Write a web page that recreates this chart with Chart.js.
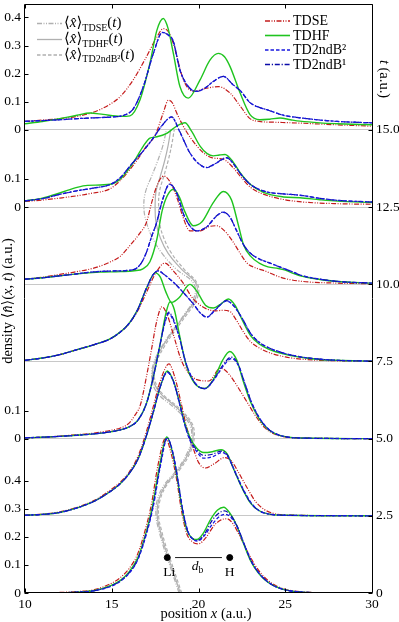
<!DOCTYPE html>
<html><head><meta charset="utf-8">
<script src="https://cdn.jsdelivr.net/npm/chart.js@4/dist/chart.umd.min.js"></script>
<style>html,body{margin:0;padding:0;background:#fff;overflow:hidden}canvas{display:block}</style>
</head><body>
<canvas id="c" width="399" height="622" style="width:399px;height:622px"></canvas>
<script>
// ---------------- data ----------------
const PANEL_TIMES = [0, 2.5, 5, 7.5, 10, 12.5, 15];   // t (a.u.) of each stacked snapshot
const STEP = 0.2745;                                  // density offset per 2.5 a.u. of time
const X_MIN = 10, X_MAX = 30, Y_MAX = 2.0911;
const T_MAX = Y_MAX * 2.5 / STEP;

// left-axis labelled ticks: [panel time, density labels]
const LEFT_TICK_GROUPS = [[0,[0,0.1,0.2,0.3,0.4]],[5,[0,0.1]],[12.5,[0,0.1]],[15,[0,0.1,0.2,0.3,0.4]]];

// density curves, [x, n(x,t)] per snapshot
const tdse_t0 = [[10,0],[12,0.002],[13,0.005],[14,0.012],[15,0.035],[15.5,0.055],[16,0.087],[16.5,0.14],[17,0.24],[17.3,0.32],[17.65,0.45],[18.1,0.55],[18.45,0.49],[18.75,0.4],[19,0.3],[19.3,0.215],[19.65,0.182],[20,0.175],[20.4,0.195],[20.9,0.24],[21.3,0.26],[21.65,0.264],[22,0.245],[22.4,0.2],[22.8,0.15],[23.2,0.105],[23.6,0.07],[24,0.045],[24.5,0.025],[25,0.013],[26,0.004],[27,0.001],[30,0]];
const tdhf_t0 = [[10,0],[12,0.001],[13,0.003],[14,0.009],[15,0.028],[15.5,0.045],[16,0.075],[16.5,0.125],[17,0.22],[17.35,0.31],[17.75,0.45],[18.17,0.555],[18.5,0.5],[18.8,0.4],[19.05,0.3],[19.35,0.22],[19.65,0.195],[19.9,0.19],[20.3,0.215],[20.7,0.262],[21.1,0.295],[21.45,0.305],[21.8,0.285],[22.2,0.24],[22.6,0.175],[23,0.115],[23.4,0.075],[23.8,0.048],[24.3,0.027],[25,0.011],[26,0.003],[27,0.001],[30,0]];
const b2_t0 = [[10,0],[12,0.001],[13,0.003],[14,0.008],[15,0.025],[15.5,0.042],[16,0.07],[16.5,0.118],[17,0.21],[17.4,0.31],[17.8,0.45],[18.2,0.55],[18.52,0.5],[18.82,0.4],[19.08,0.3],[19.4,0.218],[19.7,0.19],[19.95,0.185],[20.35,0.205],[20.8,0.245],[21.2,0.272],[21.55,0.28],[21.85,0.27],[22.25,0.232],[22.65,0.17],[23.05,0.112],[23.45,0.073],[23.85,0.047],[24.3,0.027],[25,0.011],[26,0.003],[27,0.001],[30,0]];
const b1_t0 = [[10,0],[12,0.001],[13,0.003],[14,0.008],[15,0.026],[15.5,0.043],[16,0.072],[16.5,0.12],[17,0.215],[17.38,0.31],[17.78,0.45],[18.19,0.552],[18.51,0.5],[18.81,0.4],[19.07,0.3],[19.38,0.219],[19.68,0.192],[19.93,0.187],[20.35,0.21],[20.75,0.255],[21.15,0.283],[21.5,0.292],[21.85,0.277],[22.25,0.235],[22.65,0.172],[23.05,0.113],[23.45,0.074],[23.85,0.047],[24.3,0.027],[25,0.011],[26,0.003],[27,0.001],[30,0]];

const tdse_t2 = [[10,0.002],[11,0.006],[12,0.014],[13,0.03],[14,0.055],[15,0.095],[15.5,0.12],[16,0.155],[16.5,0.21],[17,0.3],[17.4,0.39],[17.8,0.48],[18.3,0.54],[18.65,0.49],[19,0.4],[19.3,0.32],[19.7,0.24],[20,0.19],[20.4,0.17],[20.9,0.185],[21.5,0.207],[21.9,0.195],[22.3,0.155],[22.8,0.1],[23.3,0.05],[23.8,0.022],[24.3,0.009],[25,0.003],[30,0]];
const tdhf_t2 = [[10,0.002],[11,0.005],[12,0.012],[13,0.028],[14,0.052],[15,0.09],[15.5,0.115],[16,0.15],[16.5,0.2],[17,0.285],[17.4,0.37],[17.8,0.46],[18.2,0.515],[18.55,0.48],[18.9,0.405],[19.2,0.33],[19.5,0.28],[19.9,0.24],[20.3,0.225],[20.8,0.228],[21.3,0.235],[21.65,0.22],[22,0.17],[22.5,0.1],[23,0.045],[23.5,0.018],[24,0.007],[25,0.002],[30,0]];
const b2_t2 = [[10,0.002],[11,0.005],[12,0.012],[13,0.028],[14,0.052],[15,0.09],[15.5,0.115],[16,0.15],[16.5,0.2],[17,0.285],[17.4,0.37],[17.8,0.46],[18.2,0.51],[18.55,0.478],[18.9,0.4],[19.2,0.325],[19.5,0.27],[19.9,0.228],[20.3,0.205],[20.8,0.21],[21.35,0.225],[21.7,0.21],[22.05,0.165],[22.55,0.098],[23.05,0.045],[23.5,0.018],[24,0.007],[25,0.002],[30,0]];
const b1_t2 = [[10,0.002],[11,0.005],[12,0.012],[13,0.028],[14,0.052],[15,0.09],[15.5,0.115],[16,0.15],[16.5,0.2],[17,0.285],[17.4,0.37],[17.8,0.46],[18.2,0.512],[18.55,0.479],[18.9,0.402],[19.2,0.327],[19.5,0.275],[19.9,0.234],[20.3,0.215],[20.8,0.219],[21.32,0.23],[21.68,0.215],[22.02,0.167],[22.52,0.099],[23.02,0.045],[23.5,0.018],[24,0.007],[25,0.002],[30,0]];

const tdse_t5 = [[10,0.003],[11,0.005],[12,0.009],[13,0.014],[14,0.02],[15,0.03],[15.5,0.038],[16,0.055],[16.3,0.08],[16.65,0.12],[17,0.22],[17.3,0.32],[17.6,0.42],[17.9,0.469],[18.2,0.44],[18.55,0.37],[19,0.28],[19.35,0.24],[19.9,0.21],[20.6,0.205],[21.25,0.25],[21.5,0.245],[21.8,0.226],[22.3,0.18],[22.8,0.13],[23.3,0.08],[23.8,0.04],[24.3,0.018],[25,0.006],[26,0.002],[30,0]];
const tdhf_t5 = [[10,0.003],[11,0.005],[12,0.008],[13,0.012],[14,0.017],[15,0.025],[15.5,0.031],[16,0.042],[16.5,0.065],[17,0.125],[17.4,0.22],[17.8,0.34],[18.1,0.44],[18.36,0.487],[18.6,0.46],[18.9,0.37],[19.3,0.26],[19.8,0.195],[20.35,0.178],[20.9,0.215],[21.4,0.28],[21.8,0.31],[22.2,0.28],[22.6,0.2],[23,0.13],[23.5,0.07],[24,0.033],[24.5,0.015],[25,0.007],[26,0.002],[30,0]];
const b2_t5 = [[10,0.003],[11,0.005],[12,0.008],[13,0.012],[14,0.017],[15,0.025],[15.5,0.031],[16,0.042],[16.5,0.065],[17,0.125],[17.4,0.22],[17.8,0.34],[18.1,0.42],[18.28,0.445],[18.55,0.42],[18.85,0.37],[19.3,0.265],[19.8,0.198],[20.37,0.178],[20.9,0.21],[21.45,0.26],[21.9,0.285],[22.3,0.26],[22.65,0.2],[23.05,0.13],[23.5,0.075],[24,0.036],[24.5,0.016],[25,0.007],[26,0.002],[30,0]];
const b1_t5 = [[10,0.003],[11,0.005],[12,0.008],[13,0.012],[14,0.017],[15,0.025],[15.5,0.031],[16,0.042],[16.5,0.065],[17,0.125],[17.4,0.22],[17.8,0.34],[18.1,0.425],[18.28,0.45],[18.55,0.425],[18.85,0.37],[19.3,0.263],[19.8,0.197],[20.37,0.178],[20.9,0.212],[21.45,0.265],[21.88,0.29],[22.28,0.265],[22.65,0.2],[23.05,0.13],[23.5,0.074],[24,0.035],[24.5,0.016],[25,0.007],[26,0.002],[30,0]];

const tdse_t7 = [[10,0.004],[11,0.012],[12,0.024],[13,0.042],[14,0.06],[14.9,0.08],[15.5,0.105],[16,0.135],[16.5,0.18],[17,0.245],[17.5,0.31],[18.07,0.35],[18.5,0.325],[19.1,0.28],[19.6,0.23],[20.1,0.2],[20.5,0.186],[21,0.18],[21.4,0.182],[21.8,0.178],[22.2,0.145],[22.6,0.104],[23,0.07],[23.5,0.048],[24,0.033],[25,0.016],[26,0.008],[27,0.004],[30,0.001]];
const tdhf_t7 = [[10,0.004],[11,0.012],[12,0.024],[13,0.042],[14,0.06],[14.9,0.08],[15.5,0.105],[16,0.135],[16.5,0.185],[17,0.26],[17.5,0.315],[17.8,0.3],[18.1,0.25],[18.45,0.21],[18.9,0.228],[19.5,0.274],[19.9,0.25],[20.4,0.2],[20.85,0.19],[21.3,0.205],[21.72,0.222],[22.1,0.2],[22.5,0.15],[23,0.092],[23.5,0.062],[24,0.045],[25,0.025],[26,0.014],[27,0.007],[28,0.004],[30,0.001]];
const b2_t7 = [[10,0.004],[11,0.012],[12,0.024],[13,0.042],[14,0.06],[14.9,0.08],[15.5,0.105],[16,0.135],[16.5,0.185],[17,0.26],[17.4,0.31],[17.68,0.322],[18,0.31],[18.4,0.29],[18.75,0.27],[19.2,0.24],[19.7,0.205],[20.1,0.172],[20.47,0.157],[21,0.185],[21.62,0.215],[22,0.2],[22.5,0.155],[23,0.1],[23.5,0.068],[24,0.05],[25,0.028],[26,0.015],[27,0.008],[28,0.004],[30,0.001]];
const b1_t7 = [[10,0.004],[11,0.012],[12,0.024],[13,0.042],[14,0.06],[14.9,0.08],[15.5,0.105],[16,0.135],[16.5,0.185],[17,0.26],[17.4,0.31],[17.68,0.322],[18,0.31],[18.4,0.29],[18.75,0.27],[19.2,0.24],[19.7,0.205],[20.1,0.173],[20.47,0.158],[21,0.186],[21.62,0.216],[22,0.2],[22.5,0.155],[23,0.1],[23.5,0.068],[24,0.05],[25,0.028],[26,0.015],[27,0.008],[28,0.004],[30,0.001]];

const tdse_t10 = [[10,0.018],[11,0.025],[12,0.035],[13,0.045],[14,0.058],[14.9,0.079],[15.5,0.1],[16.05,0.138],[16.6,0.18],[17,0.22],[17.3,0.29],[17.6,0.35],[18,0.385],[18.4,0.36],[18.8,0.3],[19.1,0.24],[19.5,0.19],[20.1,0.19],[20.6,0.205],[21.05,0.208],[21.5,0.19],[22,0.15],[22.4,0.11],[22.8,0.075],[23.3,0.058],[23.8,0.048],[24.5,0.03],[25,0.02],[26,0.01],[28,0.004],[30,0.002]];
const tdhf_t10 = [[10,0.018],[11,0.023],[12,0.03],[13,0.037],[14.3,0.043],[15.5,0.045],[16.3,0.048],[16.8,0.055],[17.2,0.08],[17.6,0.16],[17.9,0.26],[18.2,0.315],[18.55,0.338],[18.9,0.31],[19.2,0.26],[19.7,0.208],[20.2,0.222],[20.85,0.29],[21.43,0.33],[21.9,0.3],[22.3,0.21],[22.6,0.14],[23,0.1],[23.5,0.075],[24,0.062],[24.6,0.056],[25,0.05],[25.5,0.038],[26,0.028],[27,0.017],[28,0.01],[30,0.004]];
const b2_t10 = [[10,0.018],[11,0.023],[12,0.03],[13,0.037],[13.75,0.043],[15,0.047],[16.24,0.052],[16.7,0.075],[17,0.114],[17.3,0.17],[17.59,0.22],[17.88,0.29],[18.33,0.355],[18.7,0.33],[19.2,0.24],[19.9,0.19],[20.5,0.205],[21,0.24],[21.43,0.256],[21.8,0.24],[22.2,0.19],[22.6,0.14],[23,0.11],[23.5,0.09],[24,0.078],[24.5,0.066],[25.46,0.043],[26,0.03],[27,0.018],[28,0.01],[30,0.004]];
const b1_t10 = [[10,0.018],[11,0.023],[12,0.03],[13,0.037],[13.75,0.043],[15,0.047],[16.24,0.052],[16.7,0.075],[17,0.114],[17.3,0.17],[17.59,0.22],[17.88,0.29],[18.33,0.356],[18.7,0.331],[19.2,0.24],[19.9,0.19],[20.5,0.206],[21,0.241],[21.43,0.257],[21.8,0.24],[22.2,0.19],[22.6,0.14],[23,0.11],[23.5,0.09],[24,0.078],[24.5,0.066],[25.46,0.043],[26,0.03],[27,0.018],[28,0.01],[30,0.004]];

const tdse_t12 = [[10,0.02],[11,0.025],[12,0.032],[13,0.04],[13.75,0.048],[14.9,0.065],[15.5,0.095],[16.05,0.134],[16.5,0.17],[17,0.217],[17.5,0.255],[17.97,0.335],[18.26,0.38],[18.5,0.37],[18.74,0.335],[19.1,0.29],[19.5,0.25],[20.28,0.193],[20.8,0.175],[21.43,0.17],[22,0.14],[22.4,0.11],[23,0.07],[23.74,0.046],[24.9,0.027],[26,0.018],[28,0.012],[30,0.01]];
const tdhf_t12 = [[10,0.022],[11,0.032],[12,0.05],[13,0.07],[13.6,0.077],[14.9,0.081],[15.5,0.1],[16.24,0.158],[16.82,0.217],[17.2,0.245],[17.6,0.25],[18.17,0.262],[18.74,0.288],[19.22,0.3],[19.6,0.27],[20.09,0.217],[20.5,0.19],[20.85,0.182],[21.2,0.185],[21.53,0.187],[22,0.16],[22.4,0.122],[23,0.08],[23.74,0.052],[24.9,0.036],[25.85,0.033],[27,0.026],[28,0.021],[30,0.016]];
const b2_t12 = [[10,0.022],[11,0.03],[12,0.045],[13,0.058],[14,0.068],[14.9,0.08],[15.5,0.105],[16.05,0.146],[16.82,0.2],[17.4,0.246],[17.9,0.29],[18.45,0.32],[18.9,0.27],[19.5,0.193],[20,0.155],[20.47,0.14],[21,0.155],[21.62,0.175],[22,0.155],[22.4,0.12],[23,0.08],[23.93,0.054],[24.9,0.047],[25.85,0.042],[27,0.031],[28,0.024],[30,0.018]];
const b1_t12 = [[10,0.022],[11,0.03],[12,0.045],[13,0.058],[14,0.068],[14.9,0.08],[15.5,0.105],[16.05,0.146],[16.82,0.2],[17.4,0.246],[17.9,0.29],[18.45,0.321],[18.9,0.271],[19.5,0.193],[20,0.155],[20.47,0.141],[21,0.156],[21.62,0.176],[22,0.155],[22.4,0.12],[23,0.08],[23.93,0.054],[24.9,0.047],[25.85,0.042],[27,0.031],[28,0.024],[30,0.018]];

const tdse_t15 = [[10,0.03],[11,0.035],[12,0.04],[13,0.048],[13.7,0.058],[14.32,0.072],[15,0.095],[15.5,0.119],[16.24,0.178],[17,0.26],[17.6,0.33],[17.97,0.36],[18.25,0.35],[18.55,0.307],[19.13,0.178],[19.7,0.137],[20.47,0.148],[21.14,0.154],[21.82,0.131],[22.4,0.085],[22.97,0.04],[23.5,0.03],[24.5,0.027],[25.85,0.024],[28,0.018],[30,0.013]];
const tdhf_t15 = [[10,0.022],[11,0.03],[12,0.04],[13,0.052],[13.75,0.06],[14.5,0.055],[15.5,0.048],[16.05,0.05],[16.63,0.107],[17.2,0.237],[17.6,0.354],[17.97,0.396],[18.25,0.36],[18.55,0.272],[18.93,0.154],[19.41,0.113],[20.09,0.178],[20.66,0.248],[21.14,0.272],[21.5,0.26],[21.82,0.225],[22.4,0.131],[22.97,0.054],[23.54,0.036],[24.1,0.038],[24.7,0.042],[25.3,0.036],[25.85,0.031],[27,0.025],[28,0.022],[30,0.018]];
const b2_t15 = [[10,0.03],[11,0.033],[12,0.036],[13,0.04],[14,0.043],[15,0.046],[15.7,0.052],[16.24,0.075],[16.82,0.154],[17.4,0.272],[17.92,0.347],[18.25,0.338],[18.55,0.315],[18.93,0.213],[19.5,0.148],[19.9,0.137],[20.4,0.15],[20.85,0.172],[21.43,0.19],[22,0.16],[22.4,0.14],[22.97,0.097],[23.5,0.08],[23.93,0.072],[24.9,0.052],[25.85,0.043],[27,0.035],[28,0.03],[30,0.025]];
const b1_t15 = [[10,0.03],[11,0.033],[12,0.036],[13,0.04],[14,0.043],[15,0.046],[15.7,0.052],[16.24,0.075],[16.82,0.154],[17.4,0.272],[17.92,0.346],[18.25,0.337],[18.55,0.314],[18.93,0.213],[19.5,0.148],[19.9,0.137],[20.4,0.15],[20.85,0.172],[21.43,0.19],[22,0.16],[22.4,0.14],[22.97,0.097],[23.5,0.08],[23.93,0.072],[24.9,0.052],[25.85,0.043],[27,0.035],[28,0.03],[30,0.025]];

// centre of mass trajectories <x>(t)
const T_TRAJ   = [0,0.5,1,1.5,2,2.5,3,3.5,4,4.5,5,5.5,6,6.5,7,7.5,8,8.5,9,9.5,10,10.5,11,11.5,12,12.5,13,13.5,14,14.5,15];
const X_TDSE_T = [18.88,18.58,18.28,17.98,17.73,17.55,17.62,18.02,18.77,19.32,19.6,19.45,18.6,17.6,17.3,17.45,17.9,18.5,19.15,19.7,19.75,18.7,17.9,17.35,17.0,16.85,16.95,17.3,17.65,17.95,18.15];
const X_TDHF_T = [18.95,18.65,18.35,18.05,17.8,17.62,17.7,18.1,18.85,19.4,19.68,19.55,18.75,17.75,17.35,17.5,17.95,18.55,19.2,19.8,19.88,19.0,18.25,17.8,17.55,17.5,17.55,17.8,18.05,18.25,18.4];
const X_B2_T   = [19.03,18.73,18.43,18.13,17.88,17.7,17.78,18.18,18.93,19.48,19.75,19.62,18.85,17.85,17.45,17.6,18.05,18.65,19.3,19.9,19.95,19.15,18.45,18.0,17.75,17.7,17.75,18.0,18.25,18.45,18.6];

// atoms
const ATOM_X = [18.2, 21.8];
const ATOM_D = 0.126;
const ATOM_LABELS = ['Li', 'H'];
const BOND_X = [18.65, 21.35];

// ---------------- styling ----------------
const FONT = '"Liberation Serif","DejaVu Serif",serif';
const STY = {
  tdse: {c:'#c41b1b', w:1.2, dash:[5,1.5,1,1.5,1,1.5], order:4},
  tdhf: {c:'#1fc41f', w:1.4, dash:[], order:3},
  b1:   {c:'#0b0ba8', w:1.2, dash:[5,1.8,1.2,1.8], order:2},
  b2:   {c:'#1717e0', w:1.3, dash:[3.5,2], order:1}
};
const GRAY = '#b0b0b0';

const panels = [
  {t:0,    tdse:tdse_t0,  tdhf:tdhf_t0,  b2:b2_t0,  b1:b1_t0},
  {t:2.5,  tdse:tdse_t2,  tdhf:tdhf_t2,  b2:b2_t2,  b1:b1_t2},
  {t:5,    tdse:tdse_t5,  tdhf:tdhf_t5,  b2:b2_t5,  b1:b1_t5},
  {t:7.5,  tdse:tdse_t7,  tdhf:tdhf_t7,  b2:b2_t7,  b1:b1_t7},
  {t:10,   tdse:tdse_t10, tdhf:tdhf_t10, b2:b2_t10, b1:b1_t10},
  {t:12.5, tdse:tdse_t12, tdhf:tdhf_t12, b2:b2_t12, b1:b1_t12},
  {t:15,   tdse:tdse_t15, tdhf:tdhf_t15, b2:b2_t15, b1:b1_t15}
];

const datasets = [];
// trajectories (behind)
[[X_TDSE_T, STY.tdse.dash],[X_TDHF_T, []],[X_B2_T, STY.b2.dash]].forEach(([xs, dash]) => {
  datasets.push({data: xs.map((x,i)=>({x, y:T_TRAJ[i]})), yAxisID:'yt', borderColor:GRAY,
    borderWidth:1.2, borderDash:dash, pointRadius:0, showLine:true, tension:0.4, order:20, fill:false});
});
panels.forEach(p => {
  const off = p.t / 2.5 * STEP;
  ['tdse','tdhf','b1','b2'].forEach(k => {
    const s = STY[k];
    datasets.push({data: p[k].map(([x,d]) => ({x, y: off + d})), yAxisID:'y', borderColor:s.c,
      borderWidth:s.w, borderDash:s.dash, pointRadius:0, showLine:true,
      cubicInterpolationMode:'monotone', order:s.order, fill:false});
  });
});
// bond line and atoms
datasets.push({data: BOND_X.map(x=>({x, y:ATOM_D})), yAxisID:'y', borderColor:'#000', borderWidth:0.9,
  pointRadius:0, showLine:true, order:0});
datasets.push({data: ATOM_X.map(x=>({x, y:ATOM_D})), yAxisID:'y', backgroundColor:'#000', borderColor:'#000',
  pointRadius:3, showLine:false, order:0});

const LEFT_TICKS = [];
LEFT_TICK_GROUPS.forEach(([t, labs]) => labs.forEach(d => LEFT_TICKS.push({value: t/2.5*STEP + d, label: d===0 ? '0' : d.toFixed(1)})));

// ---------------- text helper ----------------
function drawRuns(ctx, runs, x, y, align, size, subSize) {
  const f = s => ((s.includes('i')) ? 'italic ' : '') + (s.includes('s') ? subSize : size) + 'px ' + FONT;
  let total = 0;
  runs.forEach(([t,s]) => { ctx.font = f(s); total += ctx.measureText(t).width; });
  let cx = align === 'center' ? x - total/2 : x;
  ctx.textAlign = 'left'; ctx.textBaseline = 'middle';
  runs.forEach(([t,s]) => {
    ctx.font = f(s);
    ctx.fillText(t, cx, y + (s.includes('s') ? size*0.3 : 0));
    cx += ctx.measureText(t).width;
  });
}

const decor = {
  id: 'decor',
  afterDatasetsDraw(chart) {
    const {ctx, chartArea:a, scales} = chart;
    const sx = scales.x, sy = scales.y, st = scales.yt;
    ctx.save();
    ctx.strokeStyle = '#000'; ctx.lineWidth = 1; ctx.setLineDash([]);
    const L = Math.round(a.left) - 0.5, R = Math.round(a.right) + 0.5, T = Math.round(a.top) - 0.5, B = Math.round(a.bottom) - 0.5;
    ctx.beginPath();
    ctx.moveTo(L, T); ctx.lineTo(R, T); ctx.lineTo(R, B); ctx.lineTo(L, B); ctx.closePath();
    for (let v = X_MIN; v <= X_MAX; v += 5) {
      const px = Math.round(sx.getPixelForValue(v)) + 0.5;
      ctx.moveTo(px, B); ctx.lineTo(px, B - 4);
      ctx.moveTo(px, T); ctx.lineTo(px, T + 4);
    }
    LEFT_TICKS.forEach(tk => { const py = Math.round(sy.getPixelForValue(tk.value)) + 0.5; ctx.moveTo(L, py); ctx.lineTo(L + 4, py); });
    PANEL_TIMES.forEach(t => { const py = Math.round(st.getPixelForValue(t)) + 0.5; ctx.moveTo(R, py); ctx.lineTo(R - 4, py); });
    ctx.stroke();

    ctx.fillStyle = '#000';
    ATOM_X.forEach((x, i) => {
      ctx.font = '13.5px ' + FONT; ctx.textAlign = 'center'; ctx.textBaseline = 'middle';
      ctx.fillText(ATOM_LABELS[i], sx.getPixelForValue(x) + (i===0?2:0), sy.getPixelForValue(ATOM_D) + 14.5);
    });
    drawRuns(ctx, [['d','i'],['b','s']], (sx.getPixelForValue(BOND_X[0]) + sx.getPixelForValue(BOND_X[1]))/2 - 1,
      sy.getPixelForValue(ATOM_D) + 9, 'center', 13.5, 9.5);

    drawRuns(ctx, [['position ','n'],['x','i'],[' (a.u.)','n']], 206, 614, 'center', 14.5, 10);
    ctx.save(); ctx.translate(8.5, 301); ctx.rotate(-Math.PI/2);
    drawRuns(ctx, [['density \u27E8','n'],['n\u0302','i'],['\u27E9(','n'],['x','i'],[', ','n'],['t','i'],[') (a.u.)','n']], 0, 0, 'center', 14.5, 10);
    ctx.restore();
    ctx.save(); ctx.translate(384, 79); ctx.rotate(Math.PI/2);
    drawRuns(ctx, [['t','i'],[' (a.u.)','n']], 0, 0, 'center', 14.5, 10);
    ctx.restore();

    const leg = [['TDSE', STY.tdse, 21],['TDHF', STY.tdhf, 35.5],['TD2ndB\u00B2', STY.b2, 50],['TD2ndB\u00B9', STY.b1, 64.5]];
    leg.forEach(([lab, s, y]) => {
      ctx.strokeStyle = s.c; ctx.lineWidth = s.w + 0.2; ctx.setLineDash(s.dash);
      ctx.beginPath(); ctx.moveTo(265, y); ctx.lineTo(290, y); ctx.stroke();
      ctx.setLineDash([]);
      ctx.fillStyle = '#000'; ctx.font = '14px ' + FONT; ctx.textAlign = 'left'; ctx.textBaseline = 'middle';
      ctx.fillText(lab, 293, y + 0.5);
    });
    const leg2 = [['TDSE', STY.tdse.dash, 23.5],['TDHF', [], 39.5],['TD2ndB\u00B2', STY.b2.dash, 55]];
    leg2.forEach(([sub, dash, y]) => {
      ctx.strokeStyle = GRAY; ctx.lineWidth = 1.3; ctx.setLineDash(dash);
      ctx.beginPath(); ctx.moveTo(37, y); ctx.lineTo(62, y); ctx.stroke();
      ctx.setLineDash([]); ctx.fillStyle = '#000';
      drawRuns(ctx, [['\u27E8','n'],['x\u0302','i'],['\u27E9','n'],[sub,'s'],['(','n'],['t','i'],[')','n']], 64, y, 'left', 15, 10);
    });
    ctx.restore();
  }
};

const tickFont = {family: FONT, size: 13.5};
new Chart(document.getElementById('c'), {
  type: 'scatter',
  data: {datasets},
  options: {
    responsive: false, devicePixelRatio: 1, animation: false,
    layout: {padding: {top: 1, left: 0, right: 0, bottom: 0}},
    plugins: {legend: {display: false}, tooltip: {enabled: false}},
    scales: {
      x: {type:'linear', position:'bottom', min:X_MIN, max:X_MAX,
        ticks:{stepSize:5, padding:3, color:'#000', font:tickFont, maxRotation:0, autoSkip:false, callback:v=>String(v)},
        grid:{display:false, drawTicks:false}, border:{display:false},
        afterFit(s){ s.height = 29; s.paddingLeft = 0; s.paddingRight = 0; }},
      y: {type:'linear', position:'left', min:0, max:Y_MAX,
        afterBuildTicks(s){ s.ticks = LEFT_TICKS.map(t => ({value:t.value})); },
        ticks:{padding:4, color:'#000', font:tickFont, autoSkip:false, callback:(v,i)=>LEFT_TICKS[i] ? LEFT_TICKS[i].label : ''},
        grid:{display:false, drawTicks:false}, border:{display:false},
        afterFit(s){ s.width = 25; s.paddingTop = 0; s.paddingBottom = 0; }},
      yt: {type:'linear', position:'right', min:0, max:T_MAX,
        afterBuildTicks(s){ s.ticks = PANEL_TIMES.map(v => ({value:v})); },
        ticks:{padding:4, color:'#000', font:tickFont, autoSkip:false, callback:v => v === 0 ? '0' : v.toFixed(1)},
        grid:{drawOnChartArea:true, drawTicks:false, lineWidth:1,
          color: c => (c.tick && c.tick.value === 0) ? 'rgba(0,0,0,0)' : '#c8c8c8'},
        border:{display:false},
        afterFit(s){ s.width = 27; s.paddingTop = 0; s.paddingBottom = 0; }}
    }
  },
  plugins: [decor]
});
</script>
</body></html>
